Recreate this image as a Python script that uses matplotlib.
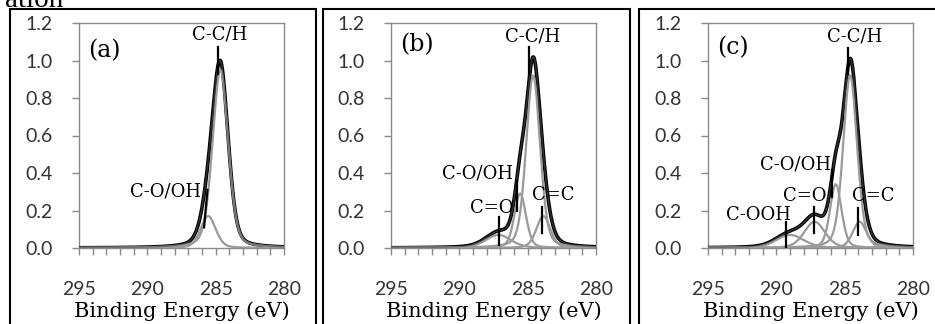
import numpy as np
import matplotlib.pyplot as plt
from matplotlib.patches import Rectangle

# XPS C1s fit components: centre (eV), height, FWHM (eV)
a_names = ['C-C/H', 'C-O/OH']
a_centre = [284.65, 285.55]
a_height = [0.95, 0.17]
a_fwhm = [1.35, 1.3]

b_names = ['C-C/H', 'C-O/OH', 'C=O', 'C=C']
b_centre = [284.6, 285.55, 287.15, 283.85]
b_height = [0.92, 0.29, 0.07, 0.17]
b_fwhm = [1.2, 1.0, 2.2, 1.2]

c_names = ['C-C/H', 'C-O/OH', 'C=O', 'C=C', 'C-OOH']
c_centre = [284.6, 285.65, 287.2, 283.9, 289.0]
c_height = [0.92, 0.34, 0.14, 0.14, 0.07]
c_fwhm = [1.2, 1.0, 1.8, 1.2, 2.4]

panel_tags = ['(a)', '(b)', '(c)']
x_ticks = [295, 290, 285, 280]
y_ticks = [0.0, 0.2, 0.4, 0.6, 0.8, 1.0, 1.2]

# label text (x, y) and marker line (x0, y0, x1, y1) for each peak label
a_labels = [('C-C/H', 284.7, 1.14, 284.85, 1.07, 284.85, 0.93),
            ('C-O/OH', 288.7, 0.30, 285.6, 0.31, 285.85, 0.11)]
b_labels = [('C-C/H', 284.65, 1.13, 284.9, 1.07, 284.9, 0.93),
            ('C-O/OH', 288.65, 0.40, 285.76, 0.36, 285.76, 0.2),
            ('C=O', 287.65, 0.215, 287.08, 0.167, 287.08, 0.016),
            ('C=C', 283.1, 0.283, 283.93, 0.22, 283.93, 0.078)]
c_labels = [('C-C/H', 284.3, 1.13, 284.78, 1.065, 284.78, 0.93),
            ('C-O/OH', 288.6, 0.443, 285.9, 0.416, 285.9, 0.27),
            ('C=O', 287.9, 0.275, 287.25, 0.22, 287.25, 0.078),
            ('C=C', 282.9, 0.275, 284.05, 0.213, 284.05, 0.07),
            ('C-OOH', 291.3, 0.176, 289.3, 0.14, 289.3, 0.0)]

SANS = 'Lato'
SERIF = 'DejaVu Serif'
GRAY = '#8a8a8a'

energy = np.linspace(280, 295, 751)


def peak(c, h, w, mix=0.72):
    d = energy - c
    g = np.exp(-4 * np.log(2) * d ** 2 / w ** 2)
    l = 1 / (1 + 4 * d ** 2 / w ** 2)
    return h * (mix * g + (1 - mix) * l)


W, H = 935, 324
fig = plt.figure(figsize=(W / 100, H / 100), dpi=100)

# outer boxes of the three panels
for x0, x1 in [(10, 316), (323, 630), (639, 960)]:
    fig.add_artist(Rectangle((x0 / W, -20 / H), (x1 - x0) / W, (H - 9 + 20) / H,
                             transform=fig.transFigure, fill=False,
                             ec='black', lw=1.5, clip_on=False))
fig.text(5 / W, (H - 7) / H, 'ation', family='Liberation Serif', fontsize=21,
         va='baseline', ha='left')

panels = [(a_centre, a_height, a_fwhm, a_labels),
          (b_centre, b_height, b_fwhm, b_labels),
          (c_centre, c_height, c_fwhm, c_labels)]
lefts = [79, 391, 708]

for i, (cen, hgt, fw, labels) in enumerate(panels):
    ax = fig.add_axes([lefts[i] / W, (H - 248) / H, 205 / W, 225 / H])
    comps = [peak(c, h, w) for c, h, w in zip(cen, hgt, fw)]
    total = np.sum(comps, axis=0)
    ax.plot(energy, total, color='black', lw=2.6, zorder=3)
    for comp in comps:
        ax.plot(energy, comp, color='#9a9a9a', lw=1.6, zorder=4)
    ax.plot(energy, total, color='#555555', lw=1.0, zorder=4, alpha=0.6)

    for name, tx, ty, x0, y0, x1, y1 in labels:
        ax.text(tx, ty, name, family=SERIF, fontsize=13, ha='center',
                va='center', zorder=6)
        ax.plot([x0, x1], [y0, y1], color='black', lw=1.6, zorder=5)
    ax.text(294.35, [1.05, 1.085, 1.07][i], panel_tags[i], family=SERIF,
            fontsize=17, ha='left', va='center')

    ax.set_xlim(295, 280)
    ax.set_ylim(0, 1.2)
    ax.set_xticks(x_ticks)
    ax.set_xticks(np.arange(280, 296), minor=True)
    ax.set_yticks(y_ticks)
    ax.set_yticklabels(['%.1f' % v for v in y_ticks])
    ax.tick_params(axis='x', which='both', direction='out', length=5,
                   color=GRAY, width=1, pad=19, labelsize=14)
    ax.tick_params(axis='y', direction='out', length=5, color=GRAY,
                   width=1, pad=14, labelsize=14)
    for lab in ax.get_xticklabels() + ax.get_yticklabels():
        lab.set_family(SANS)
        lab.set_color('#333333')
    for s in ax.spines.values():
        s.set_color(GRAY)
        s.set_linewidth(1)
    ax.spines['bottom'].set_zorder(2)
    ax.set_xlabel('Binding Energy (eV)', family=SERIF, fontsize=15,
                  labelpad=2)

fig.savefig('out.png', dpi=100)
